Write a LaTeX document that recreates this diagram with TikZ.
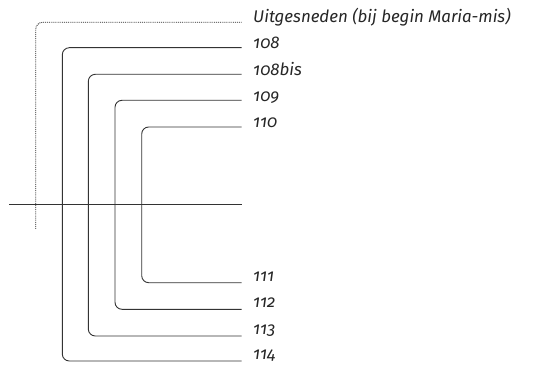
\documentclass[tikz,border=0pt]{standalone}
\usepackage{fontspec}
\setmainfont{Fira Sans}[Numbers=OldStyle]
\begin{document}
\begin{tikzpicture}[x=1pt,y=-1pt,
  bracket/.style={line width=0.9pt, draw=black!80, rounded corners=7pt},
  cut/.style={line width=0.9pt, draw=black!85, densely dotted, rounded corners=7pt},
  lbl/.style={anchor=base west, inner sep=0pt, font=\fontsize{16.9}{19}\selectfont\itshape, text=black!85}]
\useasboundingbox (0,0) rectangle (535,371);
% right ends of the lines
\coordinate (eU) at (241.7,22.3);
\coordinate (e108) at (241.7,47.7);
\coordinate (e108b) at (241.7,74.3);
\coordinate (e109) at (241.7,100.3);
\coordinate (e110) at (241.7,127);
\coordinate (e111) at (241.7,282.7);
\coordinate (e112) at (241.7,309.3);
\coordinate (e113) at (241.7,336);
\coordinate (e114) at (241.7,361);
% vertical positions
\coordinate (vU) at (35.7,229.3);
\coordinate (v1) at (62.3,0);
\coordinate (v2) at (88.3,0);
\coordinate (v3) at (115,0);
\coordinate (v4) at (141.7,0);
% horizontal cut line
\coordinate (hL) at (9.3,204.3);
\coordinate (hR) at (241.7,204.3);
% labels
\node[lbl] (tU) at (253,22.3) {Uitgesneden (bij begin Maria-mis)};
\node[lbl] (t108) at (253,49) {108};
\node[lbl] (t108b) at (253,75.5) {108bis};
\node[lbl] (t109) at (253,101.5) {109};
\node[lbl] (t110) at (253,128) {110};
\node[lbl] (t111) at (253,281) {111};
\node[lbl] (t112) at (253,307.5) {112};
\node[lbl] (t113) at (253,334) {113};
\node[lbl] (t114) at (253,359.5) {114};
% lines
\draw[cut] (eU) -| (vU);
\draw[bracket] (e108) -| (v1 |- e114) -- (e114);
\draw[bracket] (e108b) -| (v2 |- e113) -- (e113);
\draw[bracket] (e109) -| (v3 |- e112) -- (e112);
\draw[bracket] (e110) -| (v4 |- e111) -- (e111);
\draw[line width=0.9pt, draw=black!80] (hL) -- (hR);
\end{tikzpicture}
\end{document}
